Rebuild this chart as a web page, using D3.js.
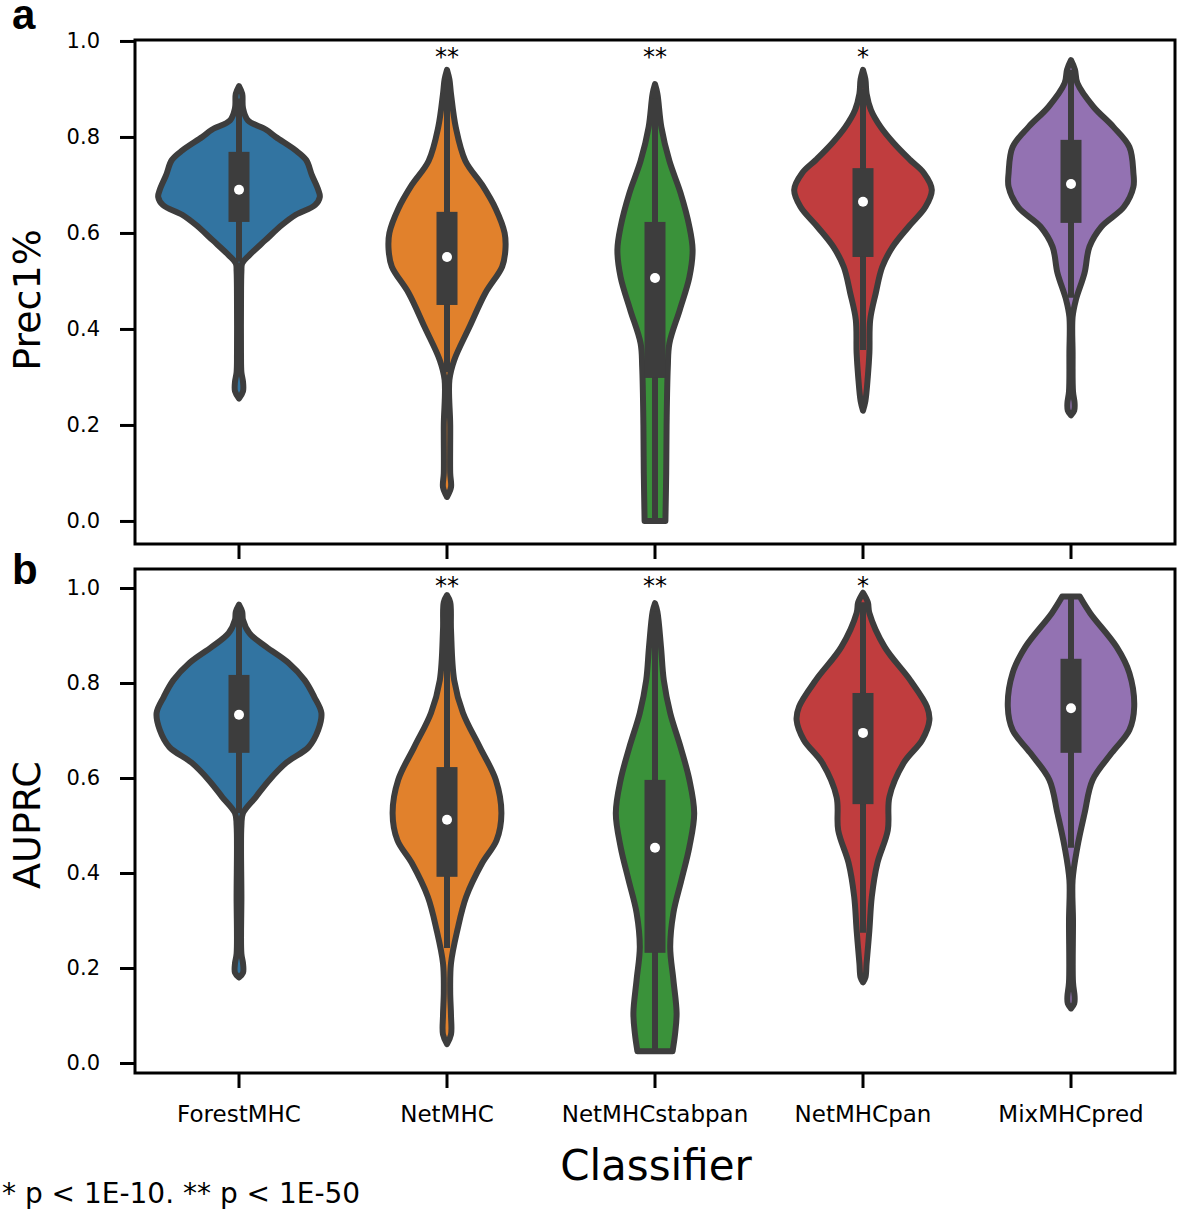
<!DOCTYPE html>
<html><head><meta charset="utf-8">
<script src="https://cdn.jsdelivr.net/npm/d3@7"></script>
<style>body{margin:0;background:#fff}</style>
</head><body><svg id="chart" width="1181" height="1211"></svg>
<script>
// ---------- data ----------
const categories = ["ForestMHC", "NetMHC", "NetMHCstabpan", "NetMHCpan", "MixMHCpred"];
const colors = ["#3274a1", "#e1812c", "#3a923a", "#c03d3e", "#9372b2"];
const significance = ["", "**", "**", "*", ""];
const yTicks = [0.0, 0.2, 0.4, 0.6, 0.8, 1.0];

// density profiles [value, relative half-width], Prec1%
const precDensity = [
  [[0.906,0],[0.89,0.04],[0.86,0.05],[0.835,0.11],[0.815,0.34],[0.80,0.46],[0.773,0.70],[0.752,0.84],[0.721,0.91],[0.69,0.99],[0.675,1.01],[0.658,0.95],[0.638,0.71],[0.617,0.54],[0.585,0.33],[0.554,0.13],[0.537,0.04],[0.52,0.03],[0.45,0.025],[0.35,0.025],[0.31,0.03],[0.29,0.05],[0.27,0.05],[0.255,0]],
  [[0.94,0],[0.92,0.03],[0.89,0.05],[0.82,0.11],[0.75,0.23],[0.70,0.44],[0.65,0.61],[0.60,0.72],[0.565,0.73],[0.53,0.69],[0.475,0.48],[0.404,0.28],[0.335,0.09],[0.294,0.03],[0.2,0.04],[0.1,0.04],[0.07,0.05],[0.05,0]],
  [[0.91,0],[0.89,0.03],[0.82,0.08],[0.75,0.18],[0.683,0.32],[0.613,0.43],[0.565,0.47],[0.508,0.43],[0.44,0.31],[0.37,0.18],[0.32,0.16],[0.2,0.145],[0.1,0.14],[0.0,0.13]],
  [[0.94,0],[0.92,0.03],[0.89,0.045],[0.856,0.1],[0.821,0.22],[0.788,0.38],[0.752,0.59],[0.725,0.76],[0.69,0.86],[0.654,0.78],[0.613,0.57],[0.571,0.37],[0.529,0.24],[0.475,0.16],[0.419,0.09],[0.35,0.08],[0.3,0.06],[0.25,0.03],[0.23,0]],
  [[0.96,0],[0.94,0.05],[0.912,0.08],[0.863,0.28],[0.821,0.53],[0.779,0.73],[0.725,0.78],[0.696,0.78],[0.654,0.66],[0.613,0.38],[0.571,0.23],[0.517,0.17],[0.46,0.06],[0.425,0.02],[0.35,0.02],[0.27,0.025],[0.245,0.045],[0.23,0.04],[0.22,0]]
];
const precQ1 = [0.623, 0.45, 0.298, 0.55, 0.621];
const precMedian = [0.69, 0.55, 0.506, 0.665, 0.702];
const precQ3 = [0.769, 0.644, 0.623, 0.735, 0.794];
const precWhiskerLow = [0.54, 0.31, 0.0, 0.356, 0.465];
const precWhiskerHigh = [0.88, 0.92, 0.88, 0.9, 0.94];

// density profiles, AUPRC
const auprcDensity = [
  [[0.965,0],[0.95,0.04],[0.933,0.05],[0.905,0.13],[0.876,0.34],[0.842,0.62],[0.806,0.82],[0.771,0.94],[0.737,1.03],[0.701,0.99],[0.665,0.87],[0.632,0.59],[0.596,0.38],[0.56,0.21],[0.526,0.05],[0.5,0.03],[0.35,0.03],[0.23,0.03],[0.21,0.05],[0.19,0.05],[0.18,0]],
  [[0.985,0],[0.97,0.04],[0.912,0.05],[0.806,0.09],[0.737,0.2],[0.665,0.41],[0.596,0.61],[0.526,0.68],[0.469,0.62],[0.421,0.44],[0.35,0.24],[0.28,0.13],[0.21,0.05],[0.15,0.04],[0.1,0.05],[0.06,0.05],[0.04,0]],
  [[0.968,0],[0.95,0.03],[0.876,0.075],[0.806,0.11],[0.737,0.19],[0.665,0.32],[0.596,0.43],[0.526,0.49],[0.455,0.43],[0.385,0.33],[0.316,0.23],[0.244,0.19],[0.175,0.23],[0.105,0.27],[0.06,0.25],[0.025,0.22]],
  [[0.99,0],[0.97,0.06],[0.947,0.08],[0.876,0.27],[0.806,0.59],[0.75,0.8],[0.722,0.83],[0.68,0.74],[0.632,0.51],[0.56,0.33],[0.49,0.31],[0.421,0.18],[0.35,0.11],[0.28,0.08],[0.21,0.045],[0.18,0.03],[0.17,0]],
  [[0.982,0.11],[0.947,0.24],[0.876,0.57],[0.821,0.73],[0.75,0.79],[0.701,0.73],[0.653,0.51],[0.596,0.27],[0.526,0.17],[0.455,0.08],[0.385,0.02],[0.3,0.025],[0.17,0.025],[0.14,0.045],[0.125,0.04],[0.115,0]]
];
const auprcQ1 = [0.653, 0.392, 0.232, 0.545, 0.653];
const auprcMedian = [0.733, 0.512, 0.453, 0.695, 0.747];
const auprcQ3 = [0.817, 0.623, 0.596, 0.779, 0.851];
const auprcWhiskerLow = [0.526, 0.242, 0.025, 0.274, 0.453];
const auprcWhiskerHigh = [0.95, 0.97, 0.95, 0.97, 0.98];

// ---------- drawing ----------
const FONT = "'DejaVu Sans', sans-serif";
const outline = "#3d3d3d";
const svg = d3.select("#chart");
svg.append("rect").attr("width", 1181).attr("height", 1211).attr("fill", "#fff");

const x = d3.scaleBand().domain(categories).range([135, 1175]).padding(0);
const wScale = d3.scaleLinear().domain([0, 1]).range([0, 80]);

const panels = [
  {tag: "a", label: "Prec1%", top: 40, bottom: 544, domain: [-0.048, 1.002],
   dens: precDensity, q1: precQ1, med: precMedian, q3: precQ3, lo: precWhiskerLow, hi: precWhiskerHigh,
   showLabels: false, tagY: 29, labelY: 300},
  {tag: "b", label: "AUPRC", top: 569, bottom: 1073, domain: [-0.021, 1.04],
   dens: auprcDensity, q1: auprcQ1, med: auprcMedian, q3: auprcQ3, lo: auprcWhiskerLow, hi: auprcWhiskerHigh,
   showLabels: true, tagY: 584, labelY: 825}
];

panels.forEach(p => {
  const y = d3.scaleLinear().domain(p.domain).range([p.bottom, p.top]);
  const g = svg.append("g");
  categories.forEach((c, i) => {
    const cx = x(c) + x.bandwidth() / 2;
    const area = d3.area().curve(d3.curveCatmullRom.alpha(0.5))
      .y(d => y(d[0])).x0(d => cx - wScale(d[1])).x1(d => cx + wScale(d[1]));
    g.append("path").attr("d", area(p.dens[i]))
      .attr("fill", colors[i]).attr("stroke", outline)
      .attr("stroke-width", 6).attr("stroke-linejoin", "round");
    g.append("line").attr("x1", cx).attr("x2", cx)
      .attr("y1", y(p.lo[i])).attr("y2", y(p.hi[i]))
      .attr("stroke", outline).attr("stroke-width", 6);
    g.append("rect").attr("x", cx - 10.5).attr("width", 21)
      .attr("y", y(p.q3[i])).attr("height", y(p.q1[i]) - y(p.q3[i]))
      .attr("fill", outline);
    g.append("circle").attr("cx", cx).attr("cy", y(p.med[i])).attr("r", 5).attr("fill", "#fff");
    if (significance[i]) {
      g.append("text").attr("x", cx).attr("y", p.top + 25)
        .attr("text-anchor", "middle").attr("font-family", FONT).attr("font-size", 24)
        .attr("fill", "#000").text(significance[i]);
    }
  });

  // y axis
  const ya = svg.append("g").attr("transform", "translate(135,0)")
    .call(d3.axisLeft(y).tickValues(yTicks).tickFormat(d3.format(".1f")).tickSize(15).tickPadding(20));
  ya.select(".domain").remove();
  ya.attr("font-family", FONT).attr("font-size", 21);
  ya.selectAll("line").attr("stroke", "#000").attr("stroke-width", 3);
  ya.selectAll("text").attr("fill", "#000");

  // x axis
  const xa = svg.append("g").attr("transform", `translate(0,${p.bottom})`)
    .call(d3.axisBottom(x).tickSize(15).tickPadding(18).tickFormat(d => p.showLabels ? d : ""));
  xa.select(".domain").remove();
  xa.attr("font-family", FONT).attr("font-size", 23);
  xa.selectAll("line").attr("stroke", "#000").attr("stroke-width", 3);
  xa.selectAll("text").attr("fill", "#000");

  // frame
  svg.append("rect").attr("x", 135).attr("y", p.top).attr("width", 1040).attr("height", p.bottom - p.top)
    .attr("fill", "none").attr("stroke", "#000").attr("stroke-width", 3);

  // y label
  svg.append("text").attr("transform", `translate(40,${p.labelY}) rotate(-90)`)
    .attr("text-anchor", "middle").attr("font-family", FONT).attr("font-size", 38)
    .attr("fill", "#000").text(p.label);

  // panel tag
  svg.append("text").attr("x", 12).attr("y", p.tagY)
    .attr("font-family", "'Liberation Sans', Arial, sans-serif").attr("font-weight", "bold")
    .attr("font-size", 42).attr("fill", "#000").text(p.tag);
});

svg.append("text").attr("x", 656).attr("y", 1180).attr("text-anchor", "middle")
  .attr("font-family", FONT).attr("font-size", 42).attr("fill", "#000").text("Classifier");

svg.append("text").attr("x", 2).attr("y", 1203)
  .attr("font-family", FONT).attr("font-size", 28).attr("fill", "#000")
  .text("* p < 1E-10. ** p < 1E-50");
</script></body></html>
